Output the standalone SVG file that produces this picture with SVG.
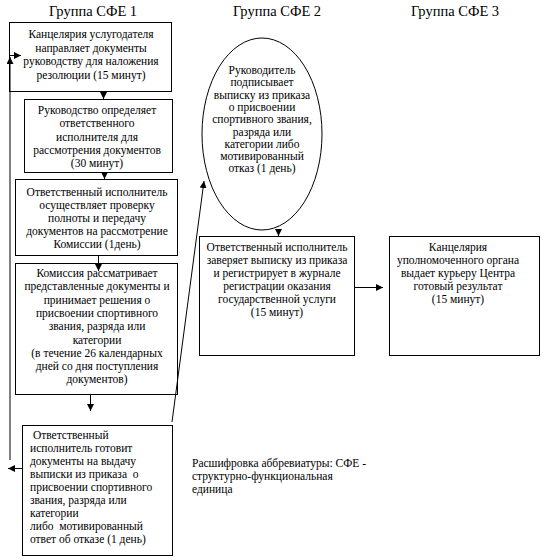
<svg xmlns="http://www.w3.org/2000/svg" width="546" height="560" viewBox="0 0 546 560" font-family="'Liberation Serif', 'Times New Roman', serif">
<style>
.title{font-size:14.5px;fill:#000;text-anchor:middle}
.t{font-size:11.5px;fill:#000;text-anchor:middle}
.l{font-size:11.5px;fill:#000}
.box{fill:#fff;stroke:#000;stroke-width:1}
.ln{fill:none;stroke:#000;stroke-width:1}
</style>
<defs>
<marker id="ah" markerUnits="userSpaceOnUse" markerWidth="8" markerHeight="8" refX="7" refY="3.5" orient="auto">
<path d="M0,0 L7,3.5 L0,7 z" fill="#000"/>
</marker>
</defs>
<rect width="546" height="560" fill="#fff"/>
<text class="title" x="93" y="16">Группа СФЕ 1</text>
<text class="title" x="277" y="16">Группа СФЕ 2</text>
<text class="title" x="455" y="16">Группа СФЕ 3</text>

<g id="n1">
<rect class="box" x="9.5" y="22.5" width="162" height="69"/>
<text class="t" x="91" y="38">Канцелярия услугодателя</text>
<text class="t" x="91" y="51.5">направляет документы</text>
<text class="t" x="91" y="65">руководству для наложения</text>
<text class="t" x="91" y="78.5">резолюции (15 минут)</text>
</g>
<g id="n2">
<rect class="box" x="24.5" y="99.5" width="148" height="73"/>
<text class="t" x="97" y="114">Руководство определяет</text>
<text class="t" x="97" y="127.3">ответственного</text>
<text class="t" x="97" y="140.6">исполнителя для</text>
<text class="t" x="97" y="153.9">рассмотрения документов</text>
<text class="t" x="97" y="167.2">(30 минут)</text>
</g>
<g id="n3">
<rect class="box" x="15.5" y="179.5" width="162" height="76"/>
<text class="t" x="97" y="196">Ответственный исполнитель</text>
<text class="t" x="97" y="209">осуществляет проверку</text>
<text class="t" x="97" y="222">полноты и передачу</text>
<text class="t" x="97" y="235">документов на рассмотрение</text>
<text class="t" x="97" y="248">Комиссии (1день)</text>
</g>
<g id="n4">
<rect class="box" x="15.5" y="263.5" width="162" height="131"/>
<text class="t" x="97" y="277">Комиссия рассматривает</text>
<text class="t" x="97" y="290.3">представленные документы и</text>
<text class="t" x="97" y="303.6">принимает решения о</text>
<text class="t" x="97" y="316.9">присвоении спортивного</text>
<text class="t" x="97" y="330.2">звания, разряда или</text>
<text class="t" x="97" y="343.5">категории</text>
<text class="t" x="97" y="356.8">(в течение 26 календарных</text>
<text class="t" x="97" y="370.1">дней со дня поступления</text>
<text class="t" x="97" y="383.4">документов)</text>
</g>
<g id="n5">
<rect class="box" x="22.5" y="425.5" width="150" height="130"/>
<text class="l" x="30" y="439" xml:space="preserve"> Ответственный</text>
<text class="l" x="30" y="452">исполнитель готовит</text>
<text class="l" x="30" y="465">документы на выдачу</text>
<text class="l" x="30" y="478" xml:space="preserve">выписки из приказа  о</text>
<text class="l" x="30" y="491">присвоении спортивного</text>
<text class="l" x="30" y="504">звания, разряда или</text>
<text class="l" x="30" y="517">категории</text>
<text class="l" x="30" y="530" xml:space="preserve">либо  мотивированный</text>
<text class="l" x="30" y="543">ответ об отказе (1 день)</text>
</g>
<g id="n6">
<ellipse class="box" cx="262" cy="134" rx="60" ry="96"/>
<text class="t" x="262" y="74">Руководитель</text>
<text class="t" x="262" y="86.3">подписывает</text>
<text class="t" x="262" y="98.6">выписку из приказа</text>
<text class="t" x="262" y="110.9">о присвоении</text>
<text class="t" x="262" y="123.2">спортивного звания,</text>
<text class="t" x="262" y="135.5">разряда или</text>
<text class="t" x="262" y="147.8">категории либо</text>
<text class="t" x="262" y="160.1">мотивированный</text>
<text class="t" x="262" y="172.4">отказ (1 день)</text>
</g>
<g id="n7">
<rect class="box" x="199.5" y="236.5" width="155" height="119"/>
<text class="t" x="277" y="251">Ответственный исполнитель</text>
<text class="t" x="277" y="264">заверяет выписку из приказа</text>
<text class="t" x="277" y="277">и регистрирует в журнале</text>
<text class="t" x="277" y="290">регистрации оказания</text>
<text class="t" x="277" y="303">государственной услуги</text>
<text class="t" x="277" y="316">(15 минут)</text>
</g>
<g id="n8">
<rect class="box" x="389.5" y="236.5" width="150" height="119"/>
<text class="t" x="458" y="251">Канцелярия</text>
<text class="t" x="458" y="264">уполномоченного органа</text>
<text class="t" x="458" y="277">выдает курьеру Центра</text>
<text class="t" x="458" y="290">готовый результат</text>
<text class="t" x="458" y="303">(15 минут)</text>
</g>
<g id="legend">
<text class="l" x="192" y="467">Расшифровка аббревиатуры: СФЕ -</text>
<text class="l" x="192" y="480">структурно-функциональная</text>
<text class="l" x="192" y="493">единица</text>
</g>

<g id="connectors">
<line class="ln" x1="103.5" y1="92" x2="103.5" y2="99" marker-end="url(#ah)"/>
<line class="ln" x1="104.5" y1="173" x2="104.5" y2="179" marker-end="url(#ah)"/>
<line class="ln" x1="98.5" y1="256" x2="98.5" y2="271" marker-end="url(#ah)"/>
<line class="ln" x1="90.5" y1="395" x2="90.5" y2="411" marker-end="url(#ah)"/>
<line class="ln" x1="22" y1="468.5" x2="8" y2="468.5" marker-end="url(#ah)"/>
<line class="ln" x1="10" y1="460" x2="10" y2="57" marker-end="url(#ah)"/>
<line class="ln" x1="10" y1="55.5" x2="21" y2="55.5" marker-end="url(#ah)"/>
<line class="ln" x1="172" y1="422" x2="204" y2="181" marker-end="url(#ah)"/>
<line class="ln" x1="278.5" y1="230" x2="278.5" y2="236" marker-end="url(#ah)"/>
<line class="ln" x1="355" y1="287.5" x2="383" y2="287.5" marker-end="url(#ah)"/>
</g>
</svg>
